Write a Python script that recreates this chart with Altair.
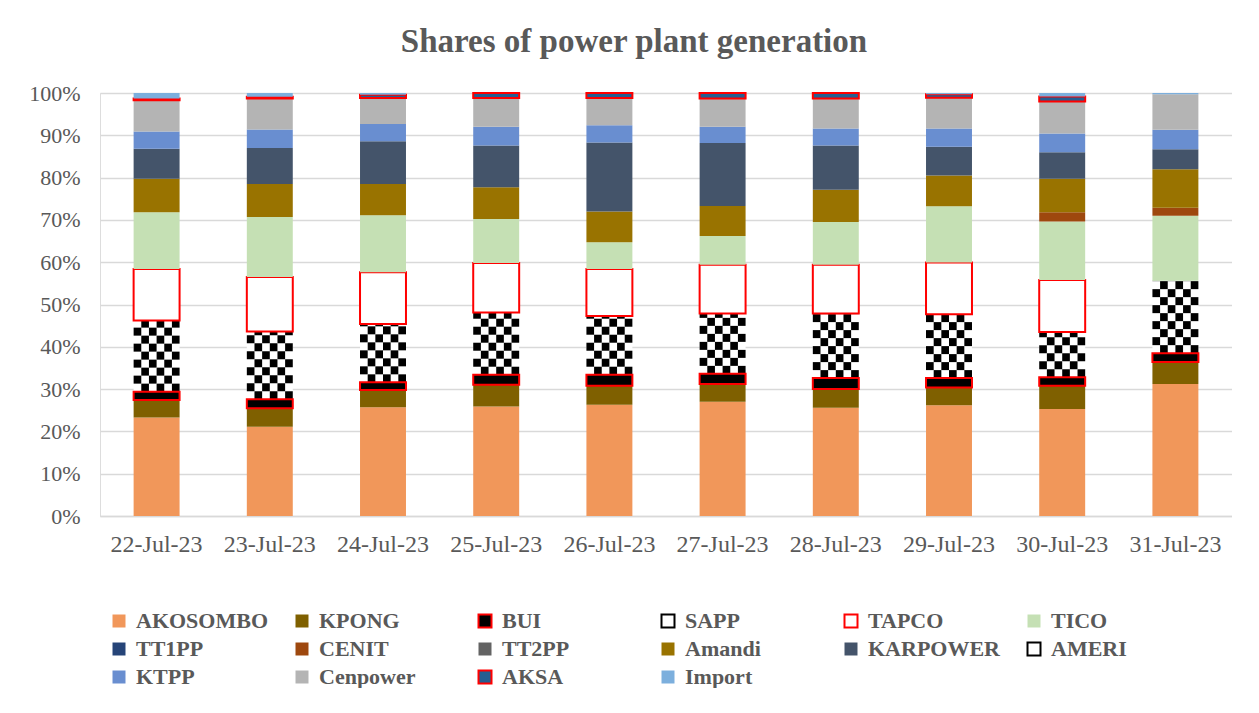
import altair as alt
import pandas as pd

dates = ["22-Jul-23", "23-Jul-23", "24-Jul-23", "25-Jul-23", "26-Jul-23",
         "27-Jul-23", "28-Jul-23", "29-Jul-23", "30-Jul-23", "31-Jul-23"]

plants = ["AKOSOMBO", "KPONG", "BUI", "SAPP", "TAPCO", "TICO", "TT1PP", "CENIT",
          "TT2PP", "Amandi", "KARPOWER", "AMERI", "KTPP", "Cenpower", "AKSA", "Import"]

akosombo = [23.3, 21.1, 25.7, 25.9, 26.3, 27.0, 25.6, 26.2, 25.3, 31.2]
kpong    = [4.1, 4.4, 4.1, 5.1, 4.5, 4.2, 4.4, 4.2, 5.5, 5.2]
bui      = [2.0, 2.1, 1.8, 2.4, 2.6, 2.4, 2.6, 2.2, 2.0, 2.1]
sapp     = [16.8, 16.0, 13.8, 14.7, 13.9, 14.3, 15.3, 15.1, 10.7, 17.1]
tapco    = [12.2, 12.9, 12.2, 11.7, 11.1, 11.5, 11.5, 12.2, 12.3, 0.0]
tico     = [13.4, 14.2, 13.5, 10.4, 6.3, 6.8, 10.1, 13.3, 13.8, 15.4]
tt1pp    = [0.0, 0.0, 0.0, 0.0, 0.0, 0.0, 0.0, 0.0, 0.0, 0.0]
cenit    = [0.0, 0.0, 0.0, 0.0, 0.0, 0.0, 0.0, 0.0, 2.2, 1.9]
tt2pp    = [0.0, 0.0, 0.0, 0.0, 0.0, 0.0, 0.0, 0.0, 0.0, 0.0]
amandi   = [7.9, 7.8, 7.4, 7.5, 7.3, 7.1, 7.6, 7.3, 7.9, 9.1]
karpower = [7.1, 8.5, 10.1, 9.9, 16.3, 14.9, 10.5, 6.8, 6.3, 4.7]
ameri    = [0.0, 0.0, 0.0, 0.0, 0.0, 0.0, 0.0, 0.0, 0.0, 0.0]
ktpp     = [4.1, 4.4, 4.1, 4.4, 4.1, 3.8, 4.0, 4.3, 4.4, 4.6]
cenpower = [7.4, 7.3, 6.1, 6.8, 6.4, 6.7, 7.1, 7.3, 7.6, 8.4]
aksa     = [0.4, 0.4, 0.8, 1.2, 1.2, 1.3, 1.3, 0.8, 1.2, 0.0]
imports  = [1.3, 0.9, 0.4, 0.0, 0.0, 0.0, 0.0, 0.3, 0.8, 0.3]

series = [akosombo, kpong, bui, sapp, tapco, tico, tt1pp, cenit, tt2pp,
          amandi, karpower, ameri, ktpp, cenpower, aksa, imports]

fills = ["#F1975A", "#7F6000", "#000000", "#FFFFFF", "#FFFFFF", "#C5E0B4",
         "#264478", "#9E480E", "#636363", "#997300", "#44546A", "#FFFFFF",
         "#698ED0", "#B4B4B4", "#255E91", "#7CAFDD"]
strokes = ["transparent", "transparent", "#FF0000", "#000000", "#FF0000", "transparent",
           "transparent", "transparent", "transparent", "transparent", "transparent", "#000000",
           "transparent", "transparent", "#FF0000", "transparent"]

TEXT = "#595959"
FONT = "Liberation Serif"
W, H = 1132, 423

# long table with stacked bounds
rows = []
for i, d in enumerate(dates):
    cum = 0.0
    for k, p in enumerate(plants):
        v = series[k][i]
        rows.append({"date": d, "plant": p, "order": k, "value": v, "y0": cum, "y1": cum + v})
        cum += v
df = pd.DataFrame(rows)

# checker cells for the SAPP segment (pattern fill)
cell_h = 8 * 100.0 / H
ncols = 6
cells = []
for _, r in df[(df.plant == "SAPP") & (df.value > 0)].iterrows():
    lo, hi = r.y0, r.y1
    rr = 0
    while lo + rr * cell_h < hi - 1e-9:
        c0 = lo + rr * cell_h
        c1 = min(lo + (rr + 1) * cell_h, hi)
        for c in range(ncols):
            if (rr + c) % 2 == 1:
                cells.append({"date": r.date, "col": c, "c0": c0, "c1": c1})
        rr += 1
cells_df = pd.DataFrame(cells)

xscale = alt.Scale(domain=dates, paddingInner=0.594, paddingOuter=0.297)
x_axis = alt.Axis(labelAngle=0, labelAlign="center", labelBaseline="top",
                  domain=True, domainColor="#D9D9D9", domainWidth=1.5,
                  ticks=False, labelFont=FONT, labelFontSize=24, labelColor=TEXT,
                  labelPadding=16, title=None, grid=False)
x_enc = alt.X("date:N", sort=dates, scale=xscale, axis=x_axis)
yscale = alt.Scale(domain=[0, 100], nice=False)
y_axis = alt.Axis(values=[0, 10, 20, 30, 40, 50, 60, 70, 80, 90, 100],
                  labelExpr="datum.value + '%'", grid=True, gridColor="#D9D9D9", gridWidth=1.3,
                  domain=False, ticks=False, labelFont=FONT, labelFontSize=22, labelColor=TEXT,
                  labelPadding=20, title=None, minExtent=92, maxExtent=92)

bars = alt.Chart(df[(df.value > 0) & (df.plant != "SAPP")]).mark_bar(strokeWidth=2, strokeJoin="miter").encode(
    x=x_enc,
    y=alt.Y("y0:Q", scale=yscale, axis=y_axis),
    y2="y1:Q",
    color=alt.Color("plant:N", scale=alt.Scale(domain=plants, range=fills),
                    legend=alt.Legend(title=None, orient="none", legendX=8, legendY=517,
                                      direction="horizontal", columns=6, gridAlign="all",
                                      columnPadding=22, rowPadding=6,
                                      symbolType="square", symbolSize=169, symbolStrokeWidth=2,
                                      labelFont=FONT, labelFontSize=22, labelFontWeight="bold",
                                      labelColor=TEXT, labelOffset=6, labelLimit=300)),
    stroke=alt.Stroke("plant:N", scale=alt.Scale(domain=plants, range=strokes)),
)

sapp_base = alt.Chart(df[(df.plant == "SAPP") & (df.value > 0)]).mark_bar(color="#FFFFFF").encode(
    x=x_enc,
    y=alt.Y("y0:Q", scale=yscale, axis=y_axis),
    y2="y1:Q",
)

checker = alt.Chart(cells_df).mark_rect(color="#000000").encode(
    x=x_enc,
    xOffset=alt.XOffset("col:O", scale=alt.Scale(paddingInner=0, paddingOuter=0)),
    y=alt.Y("c0:Q", scale=yscale, axis=y_axis),
    y2="c1:Q",
)

chart = alt.layer(sapp_base, checker, bars).properties(
    width=W, height=H,
    padding={"left": 0, "top": 18, "right": 0, "bottom": 0},
    title=alt.TitleParams("Shares of power plant generation", font=FONT, fontSize=33,
                          fontWeight="bold", color=TEXT, anchor="middle", offset=23, dx=-32),
).configure_view(stroke=None).configure(background="#FFFFFF")

chart.save("out.html", embed_options={"renderer": "svg", "actions": False})
